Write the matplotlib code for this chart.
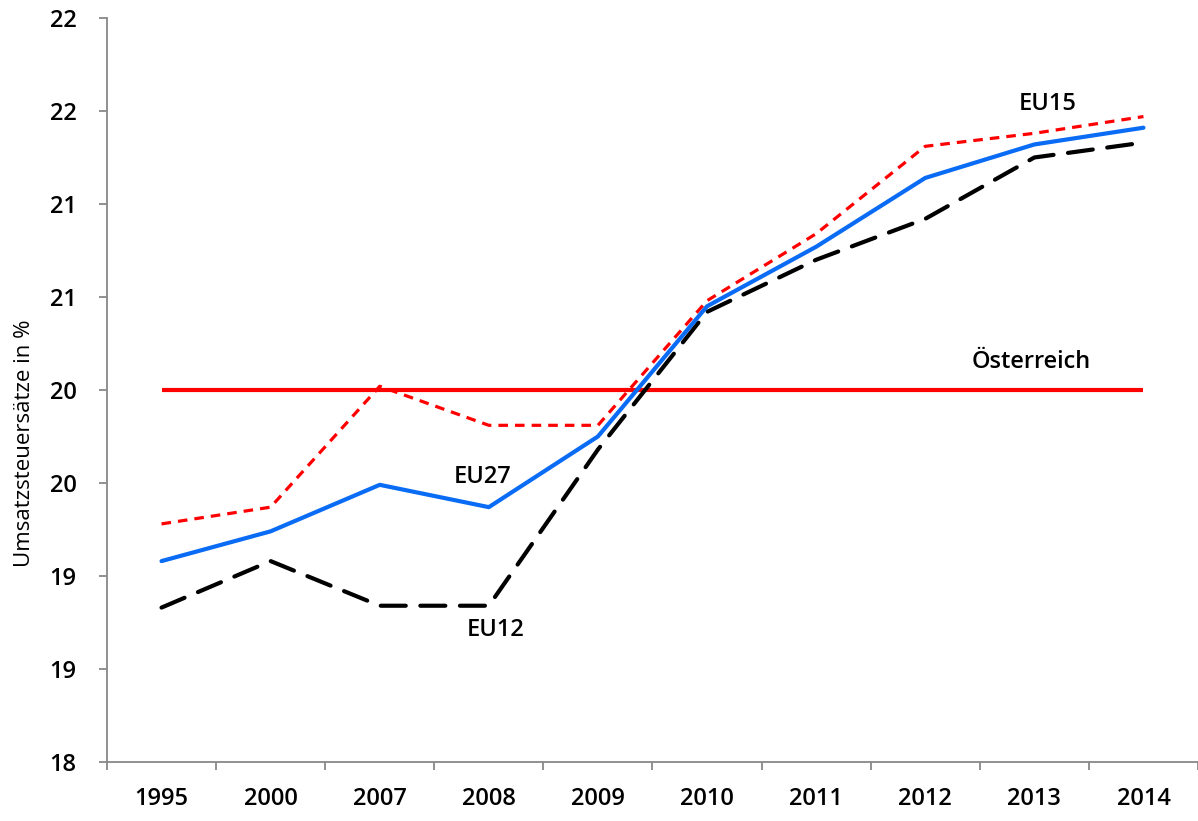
import matplotlib.pyplot as plt

# Daten
jahre = ["1995", "2000", "2007", "2008", "2009", "2010", "2011", "2012", "2013", "2014"]
eu27 = [19.08, 19.24, 19.49, 19.37, 19.75, 20.45, 20.77, 21.14, 21.32, 21.41]
eu15 = [19.28, 19.37, 20.02, 19.81, 19.81, 20.48, 20.84, 21.31, 21.38, 21.47]
eu12 = [18.83, 19.08, 18.84, 18.84, 19.68, 20.42, 20.70, 20.92, 21.25, 21.33]
oesterreich = [20.0] * len(jahre)

y_ticks = [18, 18.5, 19, 19.5, 20, 20.5, 21, 21.5, 22]
y_tick_labels = ["18", "19", "19", "20", "20", "21", "21", "22", "22"]

plt.rcParams['font.family'] = ['Open Sans', 'DejaVu Sans']

fig = plt.figure(figsize=(11.98, 8.21), dpi=100, facecolor='white')
ax = fig.add_axes([0.0893, 0.0719, 0.9107, 0.9062])

x = list(range(len(jahre)))
ax.plot(x, oesterreich, color='#ff0000', lw=3, solid_capstyle='butt')
ax.plot(x, eu15, color='#ff0000', lw=2.3, dashes=(3, 2.2))
ax.plot(x, eu12, color='black', lw=3, dashes=(6, 3.5), dash_capstyle='round')
ax.plot(x, eu27, color='#0a6cf5', lw=3, solid_capstyle='round')

# Beschriftungen
lab = dict(fontsize=17, fontweight='semibold', ha='center', va='center')
ax.text(2.94, 19.53, "EU27", **lab)
ax.text(3.06, 18.71, "EU12", **lab)
ax.text(8.12, 21.54, "EU15", **lab)
ax.text(7.97, 20.15, "Österreich", **lab)

ax.set_xlim(-0.5, 9.5)
ax.set_ylim(18, 22)
ax.set_xticks(x)
ax.set_xticklabels(jahre, fontsize=17, fontweight='semibold')
ax.set_xticks([i - 0.5 for i in range(len(jahre) + 1)], minor=True)
ax.tick_params(axis='x', which='major', length=0, pad=18)
ax.tick_params(axis='x', which='minor', length=6, color='#888888', width=1.3, direction='out')
ax.set_yticks(y_ticks)
ax.set_yticklabels(y_tick_labels, fontsize=17, fontweight='semibold')
ax.tick_params(axis='y', length=6, color='#888888', width=1.3, pad=16)
ax.set_ylabel("Umsatzsteuersätze in %", fontsize=16)
ax.yaxis.set_label_coords(-0.066, 0.429)

for s in ['top', 'right']:
    ax.spines[s].set_visible(False)
for s in ['left', 'bottom']:
    ax.spines[s].set_color('#888888')
    ax.spines[s].set_linewidth(1.3)

plt.savefig("out.png", dpi=100)
